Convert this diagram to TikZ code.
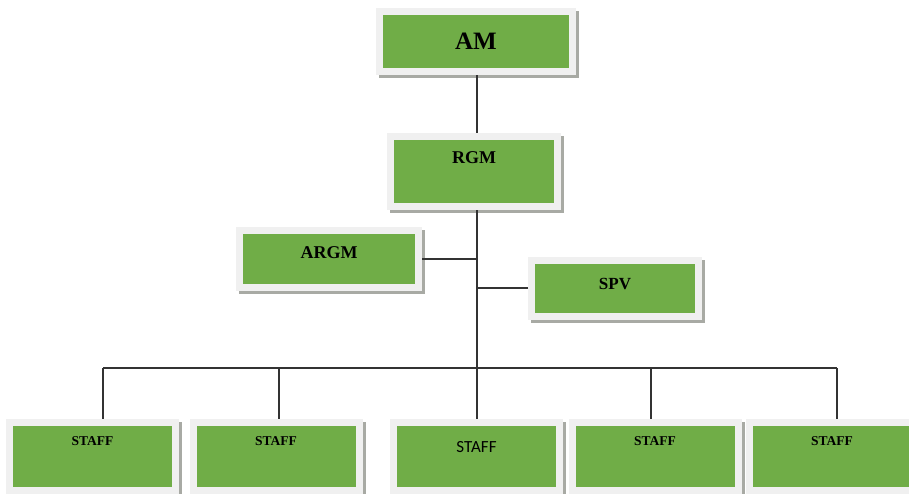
\documentclass[tikz,border=0pt]{standalone}
\usepackage{fontspec}
\setmainfont{Liberation Serif}
\newfontfamily\calib{Carlito}
\definecolor{boxgreen}{HTML}{70AD47}
\definecolor{framec}{HTML}{F0F0F0}
\definecolor{shadowc}{HTML}{A8AAA4}
\definecolor{linec}{HTML}{333333}
\tikzset{
  gbox/.style={fill=boxgreen, draw=framec, line width=7pt, inner sep=0pt,
    text=black, font=\bfseries,
    preaction={transform canvas={shift={(3pt,-3pt)}}, fill=shadowc, draw=shadowc, line width=7pt}},
  conn/.style={draw=linec, line width=1.3pt}
}
\begin{document}
\begin{tikzpicture}[x=1pt,y=-1pt]
\useasboundingbox (0,0) rectangle (909,493);
\clip (0,0) rectangle (909,493);
\node[gbox, minimum width=193pt, minimum height=60pt, font=\bfseries\fontsize{25}{27}\selectfont] (am) at (476,41.5) {AM};
\node[gbox, minimum width=167pt, minimum height=70pt, text depth=27pt, font=\bfseries\fontsize{18}{20}\selectfont] (rgm) at (474,171.5) {RGM};
\node[gbox, minimum width=179pt, minimum height=57pt, text depth=12pt, font=\bfseries\fontsize{18}{20}\selectfont] (argm) at (329,259) {ARGM};
\node[gbox, minimum width=167pt, minimum height=56pt, text depth=9pt, font=\bfseries\fontsize{17}{19}\selectfont] (spv) at (615,288) {SPV};
\tikzset{staffbox/.style={gbox, minimum width=166pt, minimum height=68pt, text depth=31pt, font=\bfseries\fontsize{13.5}{15}\selectfont}}
\node[staffbox] (s1) at (92.5,456.5) {STAFF};
\node[staffbox] (s2) at (276,456.5) {STAFF};
\node[staffbox, text depth=19pt, font=\calib\fontsize{17}{19}\selectfont] (s3) at (476.5,456.5) {STAFF};
\node[staffbox] (s4) at (655,456.5) {STAFF};
\node[staffbox] (s5) at (832,456.5) {STAFF};
\coordinate (bus) at (477,368);
\coordinate (d1) at (103,368);
\coordinate (d2) at (279,368);
\coordinate (d4) at (651,368);
\coordinate (d5) at (837,368);
\draw[conn] (am.south -| bus) -- (rgm.north -| bus);
\draw[conn] (rgm.south -| bus) -- (bus);
\draw[conn] (argm.east) -- (argm.east -| bus);
\draw[conn] (spv.west) -- (spv.west -| bus);
\draw[conn] (d1) -- (d5);
\draw[conn] (bus) -- (s3.north -| bus);
\draw[conn] (d1) -- (d1 |- s1.north);
\draw[conn] (d2) -- (d2 |- s2.north);
\draw[conn] (d4) -- (d4 |- s4.north);
\draw[conn] (d5) -- (d5 |- s5.north);
\end{tikzpicture}
\end{document}
